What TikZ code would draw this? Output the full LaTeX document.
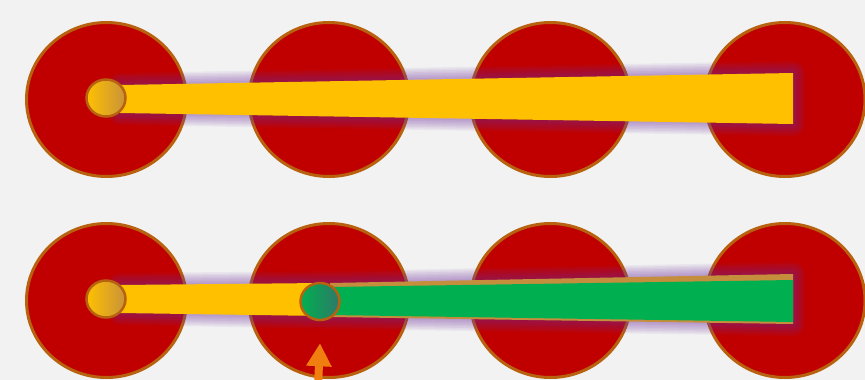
\documentclass[tikz,border=0pt]{standalone}
\usetikzlibrary{shapes.geometric,arrows.meta}
\definecolor{bg}{HTML}{F2F2F2}
\definecolor{diskred}{HTML}{C00000}
\definecolor{rim}{HTML}{B8620F}
\definecolor{gold}{HTML}{FFC000}
\definecolor{darkgold}{HTML}{C8923A}
\definecolor{grn}{HTML}{00B050}
\definecolor{dkteal}{HTML}{2F7868}
\definecolor{glowc}{HTML}{7030A0}
\definecolor{barrim}{HTML}{C48E3C}
\definecolor{arrowc}{HTML}{F07F10}
\begin{document}
\begin{tikzpicture}[x=1pt,y=-1pt,
  wheel/.style={ellipse, draw=rim, line width=3pt, fill=diskred, minimum width=160pt, minimum height=154pt, inner sep=0pt},
  hub/.style={ellipse, draw=rim, line width=2.5pt, minimum width=39pt, minimum height=37pt, inner sep=0pt},
  yhub/.style={hub, left color=gold, middle color=gold, right color=darkgold},
  ghub/.style={hub, left color=grn, middle color=grn, right color=dkteal},
  glowline/.style={draw=glowc, line join=round, opacity=0.065}]
\fill[bg] (0,0) rectangle (865,380);
\useasboundingbox (0,0) rectangle (865,380);
\clip (0,0) rectangle (865,380);
% wheels
\foreach \i/\x in {1/106.5,2/329,3/550.5,4/785}{
  \node[wheel] (a\i) at (\x,99.5) {};
  \node[wheel] (b\i) at (\x,300.5) {};
}
% glow top
\foreach \w in {24,21,18,15,12,9,6,3}{
  \draw[glowline, line width=\w pt] (120,85) -- (793,73) -- (793,124) -- (120,113) -- cycle;
}
% glow bottom
\foreach \w in {24,21,18,15,12,9,6,3}{
  \draw[glowline, line width=\w pt] (120,285) -- (338,283) -- (793,274) -- (793,324) -- (338,317) -- (120,313) -- cycle;
}
% top bar
\fill[gold] (120,85) -- (793,73) -- (793,124) -- (120,113) -- cycle;
% bottom bars
\fill[gold] (120,285) -- (322,283) -- (322,316) -- (120,313) -- cycle;
\fill[barrim] (330,283) -- (793,274) -- (793,324) -- (330,317) -- cycle;
\fill[grn] (330,287) -- (793,280) -- (793,322) -- (330,315) -- cycle;
% hubs
\node[yhub] (h1) at (106,98) {};
\node[yhub] (h2) at (106,299) {};
\node[ghub] (g2) at (320,301.5) {};
% arrow
\coordinate (as) at (318,386);
\draw[arrowc, line width=8pt, -{Triangle[width=24pt,length=23pt]}] (as) -- ([yshift=-22pt]g2.south);
\end{tikzpicture}
\end{document}
